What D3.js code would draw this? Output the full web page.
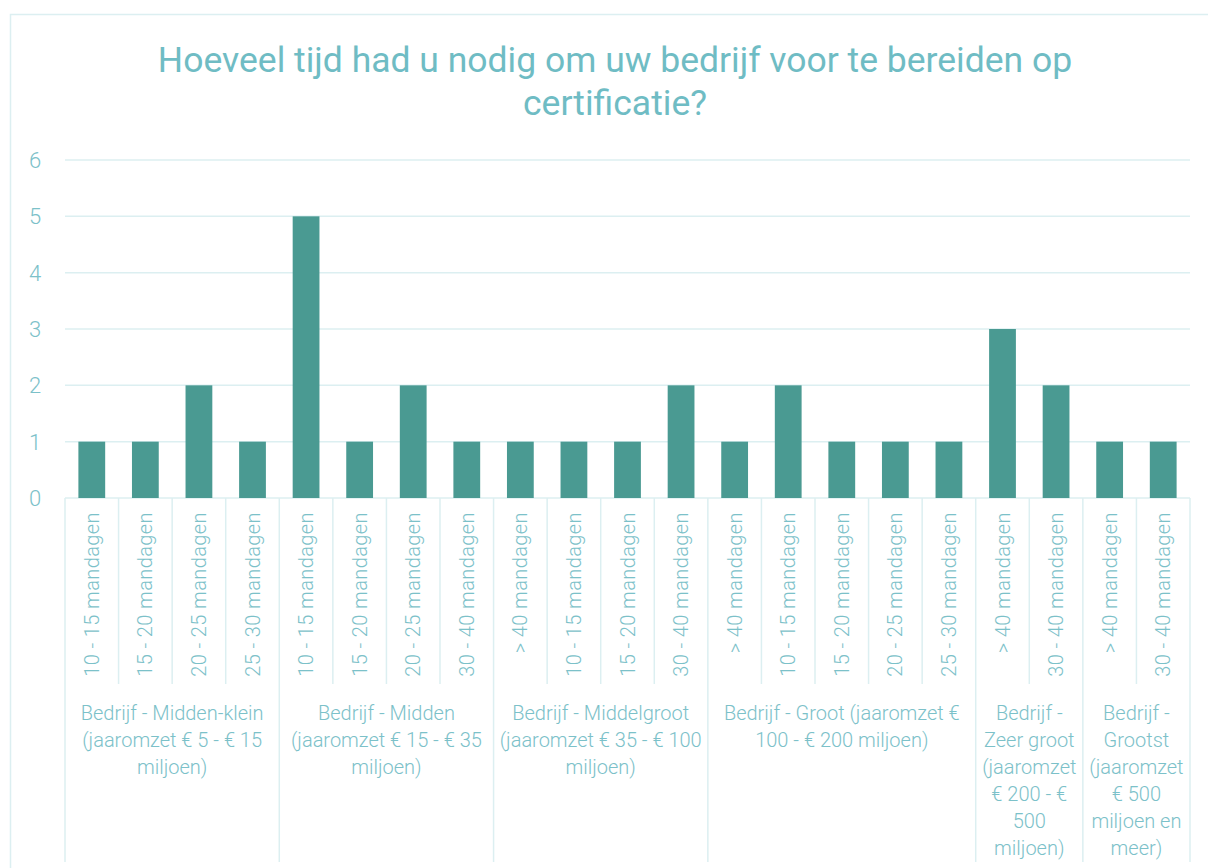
<!DOCTYPE html>
<html>
<head>
<meta charset="utf-8">
<script src="https://cdn.jsdelivr.net/npm/d3@7"></script>
<style>
  html, body { margin: 0; padding: 0; background: #fff; }
  svg { display: block; }
</style>
</head>
<body>
<svg id="chart"></svg>
<script>
// ── Data ──
const categories = [
  '10 - 15 mandagen', '15 - 20 mandagen', '20 - 25 mandagen', '25 - 30 mandagen',
  '10 - 15 mandagen', '15 - 20 mandagen', '20 - 25 mandagen', '30 - 40 mandagen',
  '> 40 mandagen', '10 - 15 mandagen', '15 - 20 mandagen', '30 - 40 mandagen',
  '> 40 mandagen', '10 - 15 mandagen', '15 - 20 mandagen', '20 - 25 mandagen', '25 - 30 mandagen',
  '> 40 mandagen', '30 - 40 mandagen',
  '> 40 mandagen', '30 - 40 mandagen'
];
const values = [1, 1, 2, 1, 5, 1, 2, 1, 1, 1, 1, 2, 1, 2, 1, 1, 1, 3, 2, 1, 1];
const groupSizes = [4, 4, 4, 5, 2, 2];
const groupLabels = [
  ['Bedrijf - Midden-klein', '(jaaromzet € 5 - € 15', 'miljoen)'],
  ['Bedrijf - Midden', '(jaaromzet € 15 - € 35', 'miljoen)'],
  ['Bedrijf - Middelgroot', '(jaaromzet € 35 - € 100', 'miljoen)'],
  ['Bedrijf - Groot (jaaromzet €', '100 - € 200 miljoen)'],
  ['Bedrijf -', 'Zeer groot', '(jaaromzet', '€ 200 - €', '500', 'miljoen)'],
  ['Bedrijf -', 'Grootst', '(jaaromzet', '€ 500', 'miljoen en', 'meer)']
];
const yTicks = [0, 1, 2, 3, 4, 5, 6];
const title = ['Hoeveel tijd had u nodig om uw bedrijf voor te bereiden op', 'certificatie?'];

// ── Setup ──
const W = 1208, H = 868;
const svg = d3.select('#chart').attr('width', W).attr('height', H);
const FONT = 'Roboto, "Open Sans", sans-serif';
const textC = '#7cc1c9', gridC = '#dcefF1', barC = '#4a9a92';

const m = { left: 65, right: 1190, top: 160, bottom: 498 };

// outer border
svg.append('rect').attr('x', 10.5).attr('y', 14.5).attr('width', W).attr('height', H)
  .attr('fill', 'none').attr('stroke', gridC).attr('stroke-width', 1.5);

// title
svg.append('g').selectAll('text').data(title).enter().append('text')
  .attr('x', 615).attr('y', (d, i) => 72 + i * 43)
  .attr('text-anchor', 'middle').attr('fill', '#6fbcc4')
  .attr('font-family', FONT).attr('font-size', '35.5px').attr('font-weight', 400)
  .text(d => d);

const x = d3.scaleBand().domain(d3.range(values.length)).range([m.left, m.right])
  .paddingInner(0.5).paddingOuter(0.25);
const y = d3.scaleLinear().domain([0, 6]).range([m.bottom, m.top]);

// ── Grid ──
svg.append('g').selectAll('line').data(yTicks).enter().append('line')
  .attr('x1', m.left).attr('x2', m.right)
  .attr('y1', d => y(d)).attr('y2', d => y(d))
  .attr('stroke', gridC).attr('stroke-width', 1.5);

svg.append('g').selectAll('text').data(yTicks).enter().append('text')
  .attr('x', 35).attr('y', d => y(d) + 8)
  .attr('text-anchor', 'middle').attr('fill', textC)
  .attr('font-family', FONT).attr('font-size', '22px').attr('font-weight', 300)
  .text(d => d);

// ── Bars ──
svg.append('g').selectAll('rect').data(values).enter().append('rect')
  .attr('x', (d, i) => x(i)).attr('width', x.bandwidth())
  .attr('y', d => y(d)).attr('height', d => y(0) - y(d))
  .attr('fill', barC);

// ── Category separators & labels ──
const step = x.step();
const edge = i => m.left + i * step;
const groupStarts = [0];
groupSizes.forEach(s => groupStarts.push(groupStarts[groupStarts.length - 1] + s));

svg.append('g').selectAll('line').data(d3.range(values.length + 1)).enter().append('line')
  .attr('x1', i => edge(i)).attr('x2', i => edge(i))
  .attr('y1', m.bottom)
  .attr('y2', i => groupStarts.includes(i) ? 862 : 684)
  .attr('stroke', gridC).attr('stroke-width', 1.5);

svg.append('g').selectAll('text').data(categories).enter().append('text')
  .attr('transform', (d, i) => `translate(${x(i) + x.bandwidth() / 2 + 7},512) rotate(-90)`)
  .attr('text-anchor', 'end').attr('fill', textC)
  .attr('font-family', FONT).attr('font-size', '20px').attr('font-weight', 300)
  .attr('letter-spacing', '0.4px')
  .text(d => d);

// ── Group labels ──
groupLabels.forEach((lines, gi) => {
  const cx = (edge(groupStarts[gi]) + edge(groupStarts[gi + 1])) / 2;
  svg.append('g').selectAll('text').data(lines).enter().append('text')
    .attr('x', cx).attr('y', (d, i) => 720 + i * 27)
    .attr('text-anchor', 'middle').attr('fill', textC)
    .attr('font-family', FONT).attr('font-size', '20px').attr('font-weight', 300)
    .text(d => d);
});
</script>
</body>
</html>
